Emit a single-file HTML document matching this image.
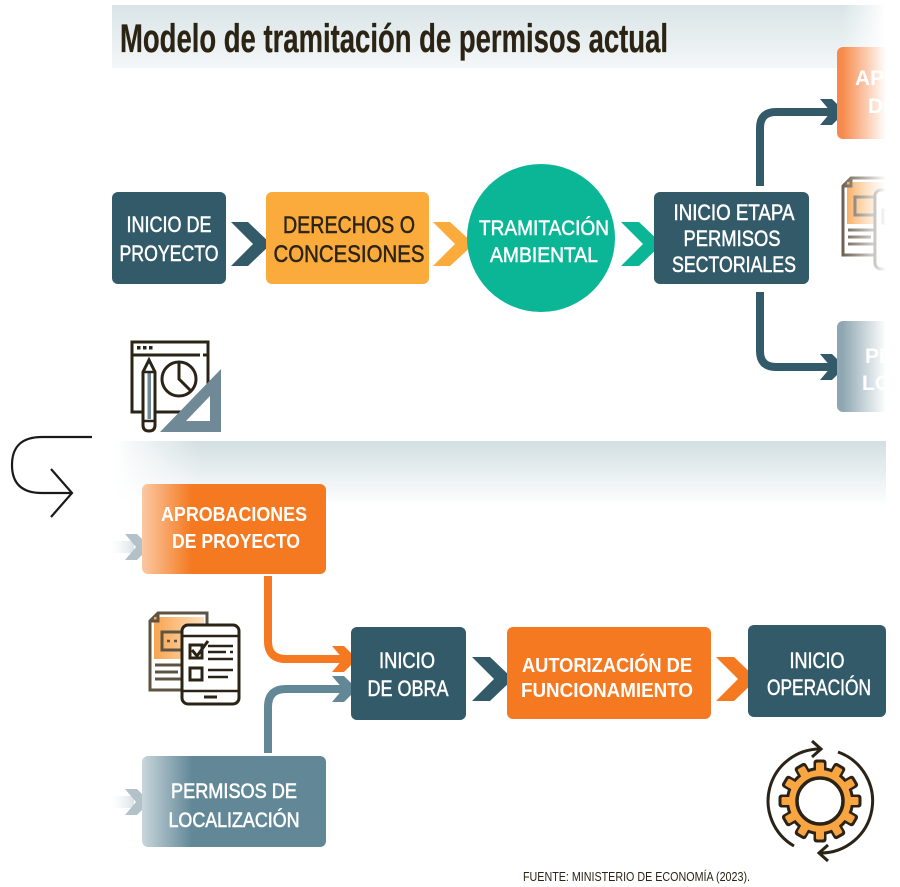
<!DOCTYPE html>
<html><head><meta charset="utf-8"><style>
html,body{margin:0;padding:0;background:#fff;}
svg{display:block;}
text{font-family:"Liberation Sans",sans-serif;}
</style></head><body>
<svg width="900" height="887" viewBox="0 0 900 887" xmlns="http://www.w3.org/2000/svg">
<defs>
<linearGradient id="tband" x1="0" y1="0" x2="0" y2="1"><stop offset="0" stop-color="#d9e4e7"/><stop offset="1" stop-color="#f4f7f8"/></linearGradient>
<linearGradient id="bband" x1="0" y1="0" x2="0" y2="1"><stop offset="0" stop-color="#d2dfe2"/><stop offset="1" stop-color="#ffffff"/></linearGradient>
<linearGradient id="lfade" gradientUnits="userSpaceOnUse" x1="112" y1="0" x2="200" y2="0"><stop offset="0" stop-color="#fff" stop-opacity="1"/><stop offset="1" stop-color="#fff" stop-opacity="0"/></linearGradient>
<linearGradient id="rfade" gradientUnits="userSpaceOnUse" x1="842" y1="0" x2="886" y2="0"><stop offset="0" stop-color="#fff" stop-opacity="0"/><stop offset="1" stop-color="#fff" stop-opacity="1"/></linearGradient>
<linearGradient id="aprob" gradientUnits="userSpaceOnUse" x1="142" y1="0" x2="192" y2="0"><stop offset="0" stop-color="#fbc9a3"/><stop offset="1" stop-color="#f47920"/></linearGradient>
<linearGradient id="perm" gradientUnits="userSpaceOnUse" x1="142" y1="0" x2="192" y2="0"><stop offset="0" stop-color="#c9d6dc"/><stop offset="1" stop-color="#628898"/></linearGradient>
<linearGradient id="small" gradientUnits="userSpaceOnUse" x1="110" y1="0" x2="150" y2="0"><stop offset="0" stop-color="#e9eef0" stop-opacity="0"/><stop offset="1" stop-color="#a9bac2"/></linearGradient>
<linearGradient id="docor" x1="0" y1="0" x2="1" y2="0"><stop offset="0" stop-color="#f8a450"/><stop offset="1" stop-color="#fde0bd"/></linearGradient>
</defs>

<!-- title band -->
<rect x="112" y="5" width="774" height="63" fill="url(#tband)"/>
<text x="120" y="52" font-size="40" font-weight="bold" fill="#2b2313" stroke="#2b2313" stroke-width="0.3" textLength="548" lengthAdjust="spacingAndGlyphs">Modelo de tramitación de permisos actual</text>

<!-- top row -->
<rect x="112" y="192" width="114" height="92" rx="6" fill="#335a69"/>
<g fill="#fff" stroke="#fff" stroke-width="0.5">
<text x="169" y="232" font-size="22" text-anchor="middle" textLength="85" lengthAdjust="spacingAndGlyphs">INICIO DE</text>
<text x="169" y="261" font-size="22" text-anchor="middle" textLength="99" lengthAdjust="spacingAndGlyphs">PROYECTO</text>
</g>

<polygon points="231,222 248,222 271,244 248,266 231,266 253,244" fill="#335a69"/>

<rect x="266" y="192" width="163" height="92" rx="6" fill="#fbaa3c"/>
<g fill="#2b2416" stroke="#2b2416" stroke-width="0.5">
<text x="349" y="233" font-size="24" text-anchor="middle" textLength="132" lengthAdjust="spacingAndGlyphs">DERECHOS O</text>
<text x="349" y="262" font-size="24" text-anchor="middle" textLength="151" lengthAdjust="spacingAndGlyphs">CONCESIONES</text>
</g>

<polygon points="433,222 450,222 474,244 450,266 433,266 455,244" fill="#fbaa3c"/>

<circle cx="541" cy="238" r="74" fill="#0bb697"/>
<g fill="#fff" stroke="#fff" stroke-width="0.5">
<text x="544" y="235" font-size="21" text-anchor="middle" textLength="130" lengthAdjust="spacingAndGlyphs">TRAMITACIÓN</text>
<text x="544" y="262" font-size="21" text-anchor="middle" textLength="108" lengthAdjust="spacingAndGlyphs">AMBIENTAL</text>
</g>

<polygon points="621,222 639,222 662,244 639,266 621,266 643,244" fill="#0bb697"/>

<rect x="654" y="192" width="155" height="92" rx="6" fill="#335a69"/>
<g fill="#fff" stroke="#fff" stroke-width="0.5">
<text x="734" y="220" font-size="22" text-anchor="middle" textLength="121" lengthAdjust="spacingAndGlyphs">INICIO ETAPA</text>
<text x="732" y="246" font-size="22" text-anchor="middle" textLength="97" lengthAdjust="spacingAndGlyphs">PERMISOS</text>
<text x="734" y="272" font-size="22" text-anchor="middle" textLength="124" lengthAdjust="spacingAndGlyphs">SECTORIALES</text>
</g>

<!-- connectors from box4 -->
<path d="M760,186 V128 Q760,112 776,112 H834" fill="none" stroke="#335a69" stroke-width="8"/>
<polygon points="820,99 832,99 845,112 832,125 820,125 831,112" fill="#335a69"/>
<path d="M760,292 V351 Q760,367 776,367 H834" fill="none" stroke="#335a69" stroke-width="8"/>
<polygon points="820,354 832,354 845,367 832,380 820,380 831,367" fill="#335a69"/>

<!-- right cut boxes -->
<rect x="837" y="47" width="60" height="92" rx="6" fill="#f68a4b"/>
<text x="855" y="85" font-size="21" font-weight="bold" fill="#fff">APROBACIONES</text>
<text x="868" y="113" font-size="21" font-weight="bold" fill="#fff">DE PROYECTO</text>
<rect x="837" y="321" width="60" height="91" rx="6" fill="#8ea6b1"/>
<text x="865" y="363" font-size="21" font-weight="bold" fill="#fff">PERMISOS DE</text>
<text x="862" y="390" font-size="21" font-weight="bold" fill="#fff">LOCALIZACIÓN</text>

<!-- right doc icon copy -->
<g transform="translate(693,-435)">
<path d="M158,613 H207 V690 H150 V621 Z" fill="#fff" stroke="#6a5f50" stroke-width="3"/>
<rect x="154" y="617" width="50" height="42" fill="url(#docor)"/>
<path d="M150,621 H158 V613" fill="none" stroke="#6a5f50" stroke-width="3"/>
<rect x="162" y="632" width="20" height="18" fill="none" stroke="#6a5f50" stroke-width="3"/>
<path d="M155,665 H182 M155,672 H178 M155,679 H182" stroke="#6a5f50" stroke-width="3"/>
<rect x="182" y="625" width="57" height="79" rx="6" fill="#fff" stroke="#2b2416" stroke-width="3"/>
<rect x="190" y="645" width="12" height="13" fill="none" stroke="#2b2416" stroke-width="3"/>
</g>

<!-- top-right fade overlay -->
<rect x="842" y="0" width="58" height="430" fill="url(#rfade)"/>
<rect x="886" y="0" width="14" height="887" fill="#fff"/>

<!-- icon 1 -->
<g fill="none" stroke="#2b2416" stroke-width="3">
<rect x="132" y="342" width="76" height="70" fill="#fff"/>
<path d="M132,355 H200 M203,355 H208"/>
<circle cx="179" cy="379" r="17" fill="#fff"/>
<path d="M179,362 V379 L191,391"/>
</g>
<rect x="137" y="346" width="3.5" height="3.5" fill="#2b2416"/>
<rect x="143" y="346" width="3.5" height="3.5" fill="#2b2416"/>
<rect x="149" y="346" width="3.5" height="3.5" fill="#2b2416"/>
<path d="M143,425 V372 L149,360 L155,372 V425 Q155,431 149,431 Q143,431 143,425 Z" fill="#fff" stroke="#2b2416" stroke-width="3"/>
<rect x="147.5" y="373" width="3.5" height="46" fill="#6f8a96"/>
<path d="M143,421 H155 M143,372 H155" stroke="#2b2416" stroke-width="2.5"/>
<polygon points="221,369 221,432 160,432" fill="#6f8a96"/>
<polygon points="210,396 210,421 186,421" fill="#fff"/>

<!-- curved arrow -->
<path d="M92,437 H42 Q12,437 12,465 Q12,493 42,493 H72" fill="none" stroke="#1a1a1a" stroke-width="2.2"/>
<path d="M51,469 L72,493 L51,517" fill="none" stroke="#1a1a1a" stroke-width="2.2"/>

<!-- bottom band -->
<rect x="112" y="441" width="774" height="65" fill="url(#bband)"/>
<rect x="112" y="441" width="90" height="65" fill="url(#lfade)"/>

<!-- aprobaciones -->
<rect x="112" y="541" width="22" height="12" fill="url(#small)"/>
<polygon points="125,534 137,534 150,547 137,560 125,560 136,547" fill="#b3c2c9"/>
<rect x="142" y="484" width="184" height="90" rx="6" fill="url(#aprob)"/>
<text x="234" y="521" font-size="20" font-weight="bold" fill="#fff" text-anchor="middle" textLength="146" lengthAdjust="spacingAndGlyphs">APROBACIONES</text>
<text x="236" y="548" font-size="20" font-weight="bold" fill="#fff" text-anchor="middle" textLength="128" lengthAdjust="spacingAndGlyphs">DE PROYECTO</text>

<!-- permisos de localizacion -->
<rect x="112" y="796" width="22" height="12" fill="url(#small)"/>
<polygon points="125,789 137,789 150,802 137,815 125,815 136,802" fill="#b3c2c9"/>
<rect x="142" y="756" width="184" height="91" rx="6" fill="url(#perm)"/>
<g fill="#fff" stroke="#fff" stroke-width="0.6">
<text x="234" y="798" font-size="21" text-anchor="middle" textLength="126" lengthAdjust="spacingAndGlyphs">PERMISOS DE</text>
<text x="234" y="827" font-size="21" text-anchor="middle" textLength="131" lengthAdjust="spacingAndGlyphs">LOCALIZACIÓN</text>
</g>

<!-- bottom connectors -->
<path d="M268,576 V641 Q268,659 286,659 H344" fill="none" stroke="#f47920" stroke-width="8"/>
<polygon points="332,646 344,646 357,659 344,672 332,672 343,659" fill="#f47920"/>
<path d="M268,753 V707 Q268,689 286,689 H344" fill="none" stroke="#628898" stroke-width="8"/>
<polygon points="332,676 344,676 357,689 344,702 332,702 343,689" fill="#628898"/>

<!-- icon 2 -->
<path d="M158,613 H207 V690 H150 V621 Z" fill="#fff" stroke="#5e5444" stroke-width="3"/>
<rect x="154" y="617" width="50" height="42" fill="url(#docor)"/>
<path d="M150,621 H158 V613" fill="none" stroke="#5e5444" stroke-width="3"/>
<rect x="162" y="632" width="20" height="18" fill="none" stroke="#5e5444" stroke-width="3"/>
<path d="M167,641 H170 M174,641 H177" stroke="#5e5444" stroke-width="2.5"/>
<path d="M155,665 H182 M155,672 H178 M155,679 H182" stroke="#5e5444" stroke-width="3"/>
<rect x="182" y="625" width="57" height="79" rx="6" fill="#fff" stroke="#2b2416" stroke-width="3"/>
<path d="M182,636 H239 M182,691 H239" stroke="#2b2416" stroke-width="2.5"/>
<rect x="190" y="645" width="12" height="13" fill="none" stroke="#2b2416" stroke-width="3"/>
<path d="M192,650 L197,656 L208,641" fill="none" stroke="#2b2416" stroke-width="3"/>
<path d="M208,646 H233 M208,652 H226 M230,652 H233 M208,659 H233" stroke="#2b2416" stroke-width="2.5"/>
<rect x="190" y="668" width="12" height="12" fill="none" stroke="#2b2416" stroke-width="3"/>
<path d="M208,670 H233 M208,677 H228" stroke="#2b2416" stroke-width="2.5"/>
<path d="M204,697 H217" stroke="#2b2416" stroke-width="3"/>

<!-- second row flow -->
<rect x="351" y="627" width="115" height="93" rx="6" fill="#335a69"/>
<g fill="#fff" stroke="#fff" stroke-width="0.5">
<text x="407" y="668" font-size="22" text-anchor="middle" textLength="56" lengthAdjust="spacingAndGlyphs">INICIO</text>
<text x="408" y="696" font-size="22" text-anchor="middle" textLength="81" lengthAdjust="spacingAndGlyphs">DE OBRA</text>
</g>

<polygon points="472,657 490,657 513,679 490,701 472,701 494,679" fill="#335a69"/>

<rect x="507" y="627" width="204" height="92" rx="6" fill="#f47920"/>
<text x="607" y="672" font-size="20" font-weight="bold" fill="#fff" text-anchor="middle" textLength="170" lengthAdjust="spacingAndGlyphs">AUTORIZACIÓN DE</text>
<text x="607" y="697" font-size="20" font-weight="bold" fill="#fff" text-anchor="middle" textLength="172" lengthAdjust="spacingAndGlyphs">FUNCIONAMIENTO</text>

<polygon points="716,657 734,657 757,679 734,701 716,701 738,679" fill="#f47920"/>

<rect x="748" y="625" width="138" height="92" rx="6" fill="#335a69"/>
<g fill="#fff" stroke="#fff" stroke-width="0.5">
<text x="817" y="668" font-size="22" text-anchor="middle" textLength="55" lengthAdjust="spacingAndGlyphs">INICIO</text>
<text x="819" y="695" font-size="22" text-anchor="middle" textLength="104" lengthAdjust="spacingAndGlyphs">OPERACIÓN</text>
</g>

<!-- gear icon -->
<g transform="translate(820,801)">
<g fill="#2b2416">
<circle r="34"/>
<rect x="-6.5" y="-41.5" width="13" height="15" rx="3" transform="rotate(0)"/>
<rect x="-6.5" y="-41.5" width="13" height="15" rx="3" transform="rotate(30)"/>
<rect x="-6.5" y="-41.5" width="13" height="15" rx="3" transform="rotate(60)"/>
<rect x="-6.5" y="-41.5" width="13" height="15" rx="3" transform="rotate(90)"/>
<rect x="-6.5" y="-41.5" width="13" height="15" rx="3" transform="rotate(120)"/>
<rect x="-6.5" y="-41.5" width="13" height="15" rx="3" transform="rotate(150)"/>
<rect x="-6.5" y="-41.5" width="13" height="15" rx="3" transform="rotate(180)"/>
<rect x="-6.5" y="-41.5" width="13" height="15" rx="3" transform="rotate(210)"/>
<rect x="-6.5" y="-41.5" width="13" height="15" rx="3" transform="rotate(240)"/>
<rect x="-6.5" y="-41.5" width="13" height="15" rx="3" transform="rotate(270)"/>
<rect x="-6.5" y="-41.5" width="13" height="15" rx="3" transform="rotate(300)"/>
<rect x="-6.5" y="-41.5" width="13" height="15" rx="3" transform="rotate(330)"/>
</g>
<g fill="#f9a542">
<circle r="31"/>
<rect x="-4" y="-38.5" width="8" height="12" rx="1.5" transform="rotate(0)"/>
<rect x="-4" y="-38.5" width="8" height="12" rx="1.5" transform="rotate(30)"/>
<rect x="-4" y="-38.5" width="8" height="12" rx="1.5" transform="rotate(60)"/>
<rect x="-4" y="-38.5" width="8" height="12" rx="1.5" transform="rotate(90)"/>
<rect x="-4" y="-38.5" width="8" height="12" rx="1.5" transform="rotate(120)"/>
<rect x="-4" y="-38.5" width="8" height="12" rx="1.5" transform="rotate(150)"/>
<rect x="-4" y="-38.5" width="8" height="12" rx="1.5" transform="rotate(180)"/>
<rect x="-4" y="-38.5" width="8" height="12" rx="1.5" transform="rotate(210)"/>
<rect x="-4" y="-38.5" width="8" height="12" rx="1.5" transform="rotate(240)"/>
<rect x="-4" y="-38.5" width="8" height="12" rx="1.5" transform="rotate(270)"/>
<rect x="-4" y="-38.5" width="8" height="12" rx="1.5" transform="rotate(300)"/>
<rect x="-4" y="-38.5" width="8" height="12" rx="1.5" transform="rotate(330)"/>
</g>
<circle r="23" fill="#fff" stroke="#2b2416" stroke-width="3.5"/>
<path d="M-26,45 A52,52 0 0 1 0,-52" fill="none" stroke="#2b2416" stroke-width="3"/>
<path d="M-8,-60 L1,-52 L-8,-44" fill="none" stroke="#2b2416" stroke-width="3"/>
<path d="M18,-49 A52,52 0 0 1 0,52" fill="none" stroke="#2b2416" stroke-width="3"/>
<path d="M8,44 L-1,52 L8,60" fill="none" stroke="#2b2416" stroke-width="3"/>
</g>

<text x="523" y="881" font-size="13" fill="#2b2416" textLength="227" lengthAdjust="spacingAndGlyphs">FUENTE: MINISTERIO DE ECONOMÍA (2023).</text>
</svg>
</body></html>
